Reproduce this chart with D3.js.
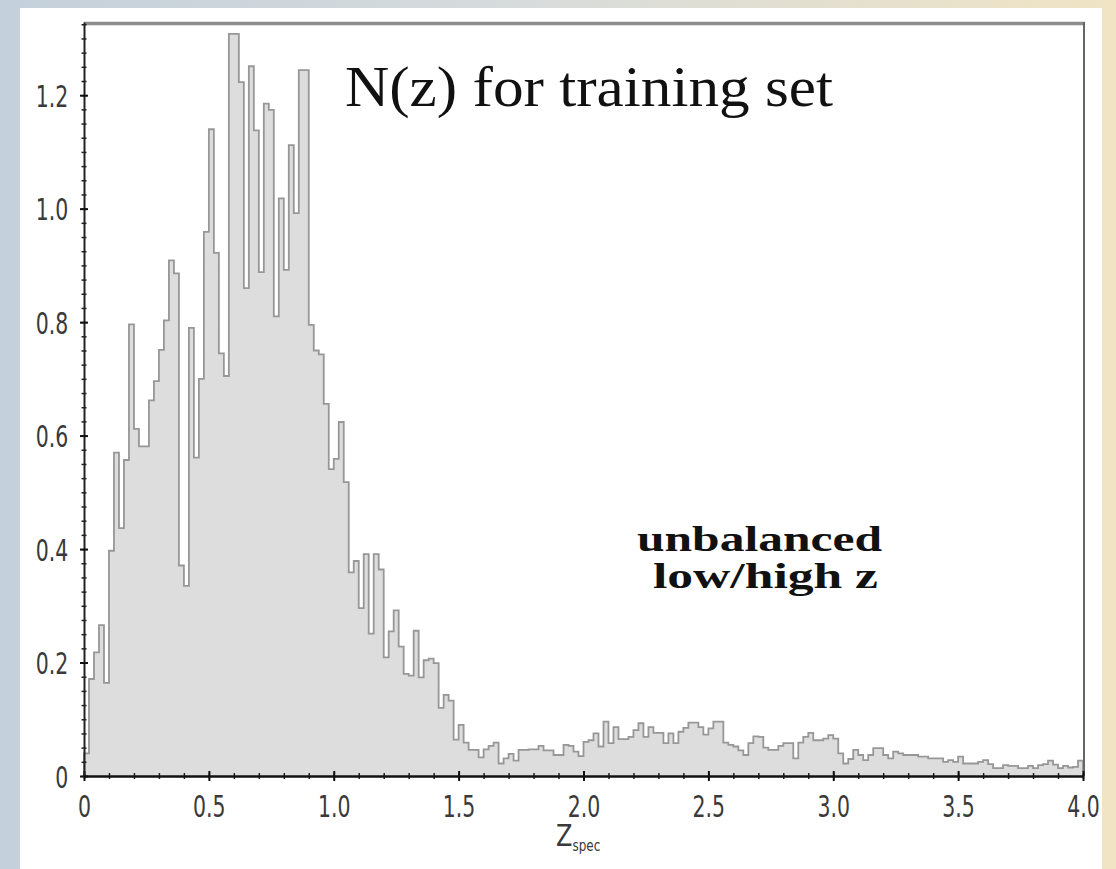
<!DOCTYPE html>
<html>
<head>
<meta charset="utf-8">
<script src="https://cdn.jsdelivr.net/npm/d3@7"></script>
<style>
  html, body { margin: 0; padding: 0; }
  svg { display: block; }
</style>
</head>
<body>
<svg id="chart" width="1116" height="869"></svg>
<script>
// Histogram of spectroscopic redshift, bins of 0.02 from 0 to 4.0
const binWidth = 0.02;
const density = [
  0.040, 0.171, 0.218, 0.266, 0.164, 0.397, 0.570, 0.437, 0.557, 0.796,
  0.612, 0.581, 0.581, 0.662, 0.696, 0.751, 0.803, 0.909, 0.886, 0.371,
  0.335, 0.790, 0.561, 0.700, 0.959, 1.140, 0.922, 0.745, 0.705, 1.308,
  1.308, 1.223, 0.860, 1.251, 1.138, 0.888, 1.185, 1.174, 0.810, 1.018,
  0.892, 1.112, 0.992, 1.244, 1.244, 0.795, 0.750, 0.743, 0.656, 0.541,
  0.559, 0.624, 0.518, 0.359, 0.379, 0.296, 0.391, 0.251, 0.391, 0.364,
  0.209, 0.255, 0.292, 0.228, 0.180, 0.177, 0.256, 0.174, 0.204, 0.207,
  0.199, 0.120, 0.143, 0.133, 0.064, 0.090, 0.059, 0.046, 0.046, 0.033,
  0.047, 0.053, 0.059, 0.022, 0.031, 0.039, 0.027, 0.046, 0.046, 0.047,
  0.047, 0.053, 0.045, 0.045, 0.037, 0.037, 0.055, 0.053, 0.043, 0.035,
  0.060, 0.063, 0.075, 0.052, 0.096, 0.058, 0.086, 0.065, 0.065, 0.069,
  0.081, 0.093, 0.069, 0.086, 0.076, 0.076, 0.058, 0.075, 0.058, 0.078,
  0.085, 0.094, 0.094, 0.086, 0.073, 0.084, 0.096, 0.096, 0.059, 0.055,
  0.052, 0.045, 0.037, 0.058, 0.070, 0.069, 0.050, 0.046, 0.046, 0.053,
  0.058, 0.058, 0.031, 0.059, 0.069, 0.076, 0.063, 0.063, 0.066, 0.072,
  0.066, 0.040, 0.022, 0.030, 0.046, 0.037, 0.028, 0.037, 0.049, 0.049,
  0.037, 0.031, 0.043, 0.040, 0.037, 0.037, 0.037, 0.034, 0.034, 0.031,
  0.031, 0.031, 0.025, 0.028, 0.025, 0.034, 0.022, 0.022, 0.022, 0.025,
  0.028, 0.021, 0.014, 0.014, 0.019, 0.018, 0.018, 0.014, 0.014, 0.018,
  0.014, 0.019, 0.021, 0.027, 0.020, 0.014, 0.018, 0.015, 0.016, 0.027
];

const xTicks = [0, 0.5, 1.0, 1.5, 2.0, 2.5, 3.0, 3.5, 4.0];
const xTickLabels = ["0", "0.5", "1.0", "1.5", "2.0", "2.5", "3.0", "3.5", "4.0"];
const yTicks = [0, 0.2, 0.4, 0.6, 0.8, 1.0, 1.2];
const yTickLabels = ["0", "0.2", "0.4", "0.6", "0.8", "1.0", "1.2"];

const svg = d3.select("#chart");

// page background: bluish on the left, beige on the right
const grad = svg.append("defs").append("linearGradient")
  .attr("id", "bg").attr("x1", "0").attr("x2", "1").attr("y1", "0").attr("y2", "0");
grad.append("stop").attr("offset", "0%").attr("stop-color", "#c4d0db");
grad.append("stop").attr("offset", "45%").attr("stop-color", "#d6dbdc");
grad.append("stop").attr("offset", "100%").attr("stop-color", "#f0e4c4");

svg.append("rect").attr("width", 1116).attr("height", 869).attr("fill", "url(#bg)");
svg.append("rect").attr("x", 20).attr("y", 8).attr("width", 1082).attr("height", 861).attr("fill", "#fff");

const x = d3.scaleLinear().domain([0, 4]).range([84, 1083]);
const y = d3.scaleLinear().domain([0, 1.329]).range([776, 22]);

// step outline points: one per bin edge, last bin repeated to close at 4.0
const pts = density.map((v, i) => [i * binWidth, v]);
pts.push([density.length * binWidth, density[density.length - 1]]);

svg.append("path")
  .datum(pts)
  .attr("fill", "#dddddd")
  .attr("d", d3.area()
    .curve(d3.curveStepAfter)
    .x(d => x(d[0]))
    .y0(y(0))
    .y1(d => y(d[1])));

const outline = [[0, 0]].concat(pts, [[density.length * binWidth, 0]]);
svg.append("path")
  .datum(outline)
  .attr("fill", "none")
  .attr("stroke", "#979797")
  .attr("stroke-width", 1.8)
  .attr("d", d3.line()
    .curve(d3.curveStepAfter)
    .x(d => x(d[0]))
    .y(d => y(d[1])));

// frame top and right
svg.append("line")
  .attr("x1", 84).attr("x2", 1085).attr("y1", 23.5).attr("y2", 23.5)
  .attr("stroke", "#8c8c8c").attr("stroke-width", 3.5);
svg.append("line")
  .attr("x1", 1084).attr("x2", 1084).attr("y1", 22).attr("y2", 776)
  .attr("stroke", "#666").attr("stroke-width", 2);

// minor ticks
const gxMinor = svg.append("g").attr("transform", `translate(0,${y(0)})`)
  .call(d3.axisBottom(x).tickValues(d3.range(0, 4.001, 0.1)).tickFormat("").tickSizeOuter(0));
gxMinor.select(".domain").remove();
gxMinor.selectAll(".tick line").attr("y1", -3).attr("y2", 3).attr("stroke", "#222").attr("stroke-width", 1.5);

const gyMinor = svg.append("g").attr("transform", `translate(${x(0)},0)`)
  .call(d3.axisLeft(y).tickValues(d3.range(0, 1.33, 0.025)).tickFormat("").tickSizeOuter(0));
gyMinor.select(".domain").remove();
gyMinor.selectAll(".tick line").attr("x1", -2.5).attr("x2", 2.5).attr("stroke", "#222").attr("stroke-width", 1.5);

// major axes
const gx = svg.append("g").attr("transform", `translate(0,${y(0)})`)
  .call(d3.axisBottom(x).tickValues(xTicks).tickFormat((d, i) => xTickLabels[i]).tickSizeOuter(0));
gx.select(".domain").attr("stroke", "#111").attr("stroke-width", 2.5);
gx.selectAll(".tick line").attr("y1", -5).attr("y2", 5).attr("stroke", "#111").attr("stroke-width", 2);
gx.selectAll(".tick text")
  .attr("y", 41).attr("dy", null)
  .attr("transform", "scale(0.66,1)")
  .attr("fill", "#3a3a3a")
  .style("font-family", "'DejaVu Sans', sans-serif")
  .style("font-size", "31px");

const gy = svg.append("g").attr("transform", `translate(${x(0)},0)`)
  .call(d3.axisLeft(y).tickValues(yTicks).tickFormat((d, i) => yTickLabels[i]).tickSizeOuter(0));
gy.select(".domain").attr("stroke", "#222").attr("stroke-width", 2);
gy.selectAll(".tick line").attr("x1", -4).attr("x2", 4).attr("stroke", "#111").attr("stroke-width", 2);
gy.selectAll(".tick text")
  .attr("x", -24).attr("dy", "0.36em")
  .attr("transform", "scale(0.66,1)")
  .attr("fill", "#3a3a3a")
  .style("font-family", "'DejaVu Sans', sans-serif")
  .style("font-size", "31px");

// x axis title Z_spec
const xt = svg.append("text")
  .attr("transform", "translate(556,846) scale(0.8,1)")
  .attr("fill", "#3a3a3a")
  .style("font-family", "'DejaVu Sans', sans-serif")
  .style("font-size", "30px");
xt.append("tspan").text("Z");
xt.append("tspan").attr("dy", 5).style("font-size", "15px").text("spec");

// annotations
svg.append("text")
  .attr("x", 345).attr("y", 106)
  .attr("textLength", 488).attr("lengthAdjust", "spacingAndGlyphs")
  .style("font-family", "'Liberation Serif', serif")
  .style("font-size", "56px")
  .attr("fill", "#111")
  .text("N(z) for training set");

svg.append("text")
  .attr("x", 637).attr("y", 551)
  .attr("textLength", 245).attr("lengthAdjust", "spacingAndGlyphs")
  .style("font-family", "'Liberation Serif', serif")
  .style("font-weight", "bold")
  .style("font-size", "36px")
  .attr("fill", "#111")
  .text("unbalanced");

svg.append("text")
  .attr("x", 653).attr("y", 588)
  .attr("textLength", 225).attr("lengthAdjust", "spacingAndGlyphs")
  .style("font-family", "'Liberation Serif', serif")
  .style("font-weight", "bold")
  .style("font-size", "36px")
  .attr("fill", "#111")
  .text("low/high z");
</script>
</body>
</html>
